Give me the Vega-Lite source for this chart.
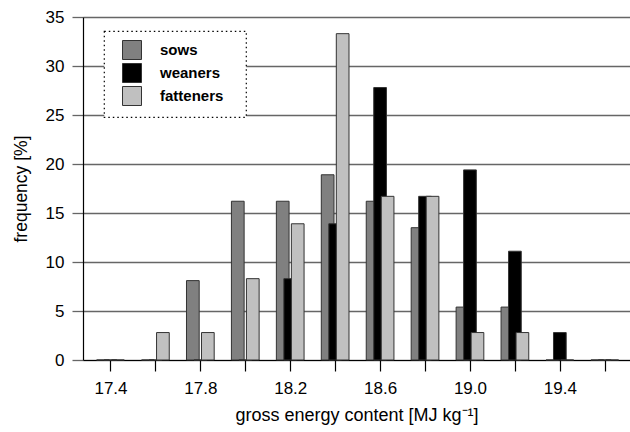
{
  "$schema": "https://vega.github.io/schema/vega-lite/v6.json",
  "width": 547,
  "height": 343,
  "autosize": "none",
  "padding": {"left": 83, "top": 17, "right": 0, "bottom": 72},
  "background": "white",
  "data": {
    "values": [
      {"energy": 17.4, "group": "sows", "freq": 0},
      {"energy": 17.4, "group": "weaners", "freq": 0},
      {"energy": 17.4, "group": "fatteners", "freq": 0},
      {"energy": 17.6, "group": "sows", "freq": 0},
      {"energy": 17.6, "group": "weaners", "freq": 0},
      {"energy": 17.6, "group": "fatteners", "freq": 2.8},
      {"energy": 17.8, "group": "sows", "freq": 8.1},
      {"energy": 17.8, "group": "weaners", "freq": 0},
      {"energy": 17.8, "group": "fatteners", "freq": 2.8},
      {"energy": 18.0, "group": "sows", "freq": 16.2},
      {"energy": 18.0, "group": "weaners", "freq": 0},
      {"energy": 18.0, "group": "fatteners", "freq": 8.3},
      {"energy": 18.2, "group": "sows", "freq": 16.2},
      {"energy": 18.2, "group": "weaners", "freq": 8.3},
      {"energy": 18.2, "group": "fatteners", "freq": 13.9},
      {"energy": 18.4, "group": "sows", "freq": 18.9},
      {"energy": 18.4, "group": "weaners", "freq": 13.9},
      {"energy": 18.4, "group": "fatteners", "freq": 33.3},
      {"energy": 18.6, "group": "sows", "freq": 16.2},
      {"energy": 18.6, "group": "weaners", "freq": 27.8},
      {"energy": 18.6, "group": "fatteners", "freq": 16.7},
      {"energy": 18.8, "group": "sows", "freq": 13.5},
      {"energy": 18.8, "group": "weaners", "freq": 16.7},
      {"energy": 18.8, "group": "fatteners", "freq": 16.7},
      {"energy": 19.0, "group": "sows", "freq": 5.4},
      {"energy": 19.0, "group": "weaners", "freq": 19.4},
      {"energy": 19.0, "group": "fatteners", "freq": 2.8},
      {"energy": 19.2, "group": "sows", "freq": 5.4},
      {"energy": 19.2, "group": "weaners", "freq": 11.1},
      {"energy": 19.2, "group": "fatteners", "freq": 2.8},
      {"energy": 19.4, "group": "sows", "freq": 0},
      {"energy": 19.4, "group": "weaners", "freq": 2.8},
      {"energy": 19.4, "group": "fatteners", "freq": 0},
      {"energy": 19.6, "group": "sows", "freq": 0},
      {"energy": 19.6, "group": "weaners", "freq": 0},
      {"energy": 19.6, "group": "fatteners", "freq": 0}
    ]
  },
  "encoding": {
    "x": {
      "field": "energy",
      "type": "quantitative",
      "scale": {"domain": [17.3, 19.69], "nice": false, "zero": false},
      "axis": {
        "title": "gross energy content [MJ kg⁻¹]",
        "values": [17.4, 17.6, 17.8, 18.0, 18.2, 18.4, 18.6, 18.8, 19.0, 19.2, 19.4, 19.6],
        "labelExpr": "indexof(['17.4','17.8','18.2','18.6','19.0','19.4'], format(datum.value,'.1f')) >= 0 ? format(datum.value,'.1f') : ''",
        "grid": false,
        "domain": true,
        "domainColor": "#000000",
        "domainWidth": 1.2,
        "tickColor": "#000000",
        "tickSize": 11,
        "tickWidth": 1.2,
        "labelPadding": 9,
        "labelFontSize": 17,
        "labelColor": "#000000",
        "titleFontSize": 18,
        "titleFontWeight": "normal",
        "titleColor": "#000000",
        "titlePadding": 10
      }
    },
    "y": {
      "field": "freq",
      "type": "quantitative",
      "scale": {"domain": [0, 35], "nice": false},
      "axis": {
        "title": "frequency [%]",
        "values": [0, 5, 10, 15, 20, 25, 30, 35],
        "grid": true,
        "gridColor": "#666666",
        "gridWidth": 1.3,
        "domain": true,
        "domainColor": "#000000",
        "domainWidth": 1.2,
        "tickColor": "#666666",
        "tickSize": 11,
        "tickWidth": 1.3,
        "labelPadding": 8,
        "labelFontSize": 17,
        "labelColor": "#000000",
        "titleFontSize": 17.5,
        "titleFontWeight": "normal",
        "titleColor": "#000000",
        "titlePadding": 15
      }
    },
    "color": {
      "field": "group",
      "type": "nominal",
      "scale": {"domain": ["sows", "weaners", "fatteners"], "range": ["#808080", "#000000", "#c0c0c0"]},
      "legend": {
        "title": " ",
        "titleOrient": "right",
        "titleFontSize": 8,
        "titlePadding": 14,
        "orient": "none",
        "legendX": 21,
        "legendY": 14,
        "symbolType": "square",
        "symbolSize": 361,
        "symbolStrokeColor": "#333333",
        "symbolStrokeWidth": 1,
        "symbolOffset": 9,
        "labelFontSize": 15,
        "labelFontWeight": "bold",
        "labelColor": "#000000",
        "labelOffset": 18,
        "rowPadding": -1,
        "padding": 9,
        "strokeColor": "#000000",
        "fillColor": "white"
      }
    }
  },
  "layer": [
    {
      "transform": [{"filter": "datum.group === 'sows'"}],
      "mark": {"type": "bar", "width": 12.7, "xOffset": -7.5, "stroke": "#333333", "strokeWidth": 1}
    },
    {
      "transform": [{"filter": "datum.group === 'weaners'"}],
      "mark": {"type": "bar", "width": 12.7, "xOffset": 0, "stroke": "#333333", "strokeWidth": 1}
    },
    {
      "transform": [{"filter": "datum.group === 'fatteners'"}],
      "mark": {"type": "bar", "width": 12.7, "xOffset": 7.5, "stroke": "#333333", "strokeWidth": 1}
    }
  ],
  "config": {
    "font": "Liberation Sans",
    "view": {"stroke": null},
    "legend": {"strokeDash": [1.5, 3], "strokeWidth": 1.2}
  }
}
